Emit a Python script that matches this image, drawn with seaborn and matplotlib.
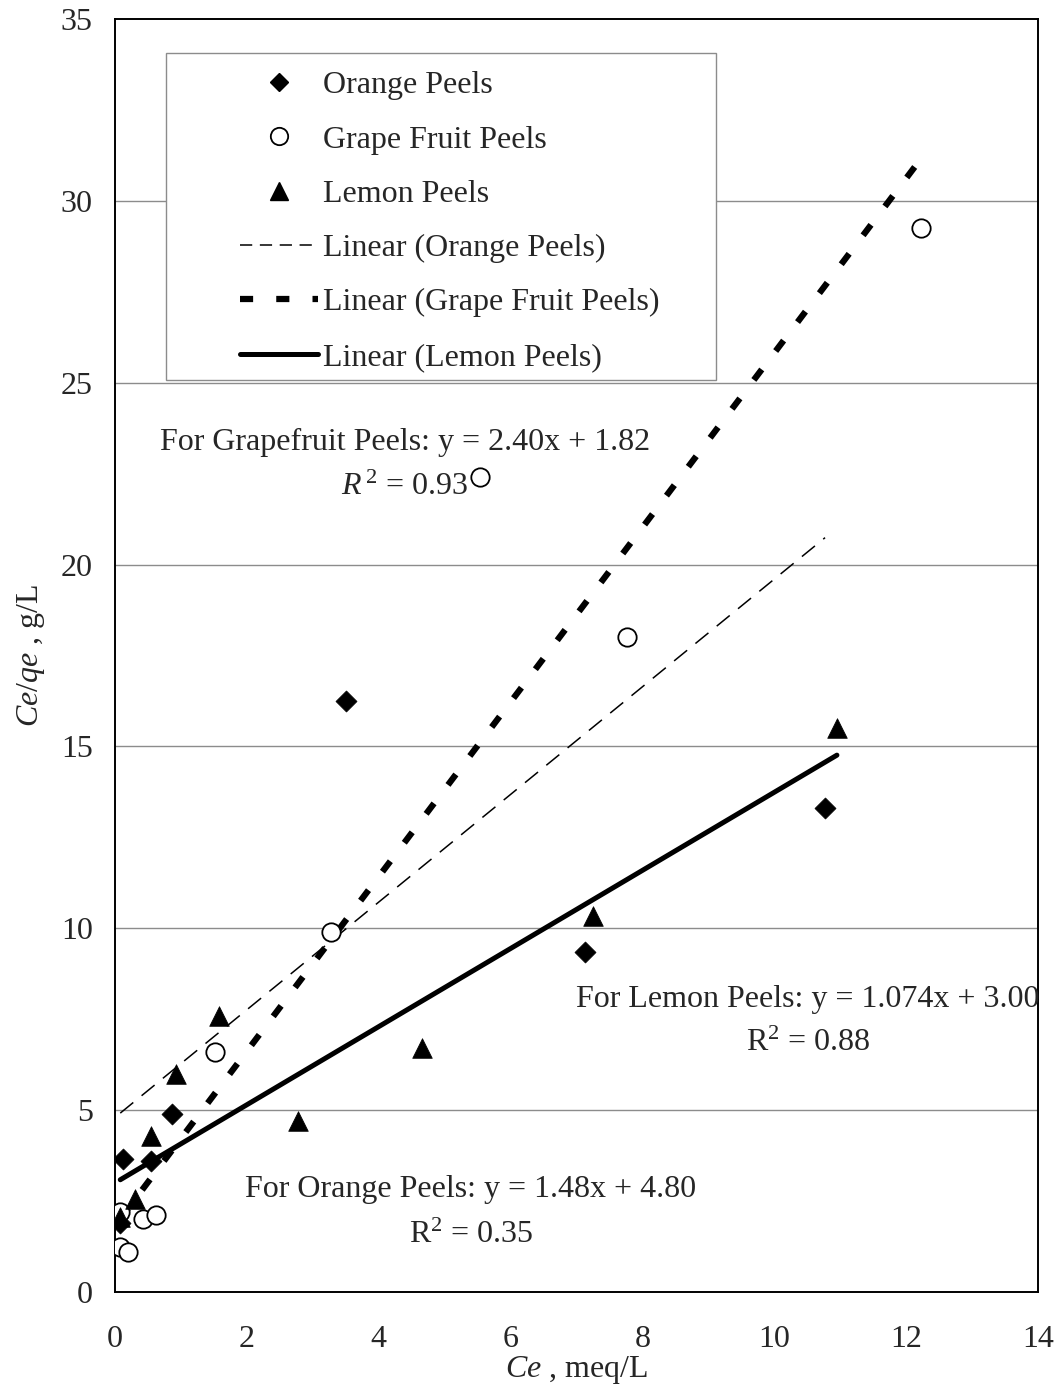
import numpy as np
import pandas as pd
import matplotlib
matplotlib.use("Agg")
import matplotlib.pyplot as plt
from matplotlib.lines import Line2D
from matplotlib.patches import Rectangle
import seaborn as sns

# ---------------- data ----------------
orange_x = [0.08, 0.12, 0.55, 0.87, 3.50, 7.13, 10.77]
orange_y = [1.90, 3.67, 3.60, 4.90, 16.25, 9.35, 13.30]

grape_x = [0.08, 0.08, 0.20, 0.42, 0.62, 1.52, 3.27, 5.53, 7.77, 12.23]
grape_y = [2.20, 1.25, 1.10, 2.00, 2.12, 6.60, 9.90, 22.40, 18.00, 29.25]

lemon_x = [0.08, 0.30, 0.55, 0.92, 1.57, 2.77, 4.65, 7.25, 10.95]
lemon_y = [2.05, 2.55, 4.30, 6.00, 7.60, 4.70, 6.70, 10.35, 15.50]

# fitted equations (slope, intercept) as printed on the chart
orange_fit = (1.48, 4.80)
grape_fit = (2.40, 1.82)
lemon_fit = (1.074, 3.00)

x_ticks = [0, 2, 4, 6, 8, 10, 12, 14]
y_ticks = [0, 5, 10, 15, 20, 25, 30, 35]

# ---------------- style ----------------
sns.set_theme(style="white")
plt.rcParams["font.family"] = ["Liberation Serif", "DejaVu Serif"]
plt.rcParams["mathtext.fontset"] = "custom"
plt.rcParams["mathtext.rm"] = "Liberation Serif"
plt.rcParams["mathtext.it"] = "Liberation Serif:italic"

FS = 23
fig = plt.figure(figsize=(10.63, 13.93), dpi=100)
ax = fig.add_axes([115 / 1063, 1 - 1292 / 1393, (1038 - 115) / 1063, (1292 - 19) / 1393])

ax.set_xlim(0, 14)
ax.set_ylim(0, 35)
ax.set_xticks(x_ticks)
ax.set_yticks(y_ticks)
ax.set_xticklabels([str(t) for t in x_ticks], fontsize=FS)
ax.set_yticklabels([str(t) for t in y_ticks], fontsize=FS)
ax.tick_params(axis="both", direction="out", length=6, width=1, color="black", pad=10)
ax.tick_params(axis="x", pad=18)

for g in y_ticks[1:-1]:
    ax.axhline(g, color="#8c8c8c", lw=1.0, zorder=0)

for sp in ax.spines.values():
    sp.set_color("black")
    sp.set_linewidth(1.4)

# fit lines
def fit_df(xs, fit):
    xx = np.array([min(xs), max(xs)])
    return pd.DataFrame({"x": xx, "y": fit[0] * xx + fit[1]})

d = fit_df(orange_x, orange_fit)
sns.lineplot(data=d, x="x", y="y", ax=ax, color="black", lw=1.1, zorder=2)
ax.lines[-1].set_dashes((11, 7))
d = fit_df(grape_x, grape_fit)
sns.lineplot(data=d, x="x", y="y", ax=ax, color="black", lw=4.5, zorder=2)
ax.lines[-1].set_dashes((2.1, 3.7))
ax.lines[-1].set_dash_capstyle("butt")
d = fit_df(lemon_x, lemon_fit)
sns.lineplot(data=d, x="x", y="y", ax=ax, color="black", lw=3.6, zorder=2)
ax.lines[-1].set_solid_capstyle("round")

# scatter points
sns.scatterplot(x=orange_x, y=orange_y, ax=ax, marker="D", s=115, color="black",
                edgecolor="black", linewidth=0.5, zorder=3)
sns.scatterplot(x=grape_x, y=grape_y, ax=ax, marker="o", s=175, facecolor="white",
                edgecolor="black", linewidth=1.3, zorder=3)
sns.scatterplot(x=lemon_x, y=lemon_y, ax=ax, marker="^", s=200, color="black",
                edgecolor="black", linewidth=0.5, zorder=3)

ax.set_xlabel(r"$\mathit{Ce}$ , meq/L", fontsize=FS, labelpad=0)
ax.set_ylabel(r"$\mathit{Ce/qe}$ , g/L", fontsize=FS, labelpad=10)

def pix(px, py):
    return ((px - 115) / 923, (1292 - py) / 1273)

# legend box
box = Rectangle(pix(166, 380), 550 / 923, 327 / 1273,
                transform=ax.transAxes, facecolor="white", edgecolor="#8c8c8c",
                lw=1.0, zorder=4)
ax.add_patch(box)

handles = [
    Line2D([], [], marker="D", color="black", ls="none", markersize=9.5),
    Line2D([], [], marker="o", markerfacecolor="white", markeredgecolor="black", ls="none", markersize=12.5, markeredgewidth=1.3),
    Line2D([], [], marker="^", color="black", ls="none", markersize=13.5),
    Line2D([], [], color="black", lw=1.1, dashes=(8, 5)),
    Line2D([], [], color="black", lw=4.5, dashes=(2.1, 3.7), dash_capstyle="butt"),
    Line2D([], [], color="black", lw=3.6),
]
labels = ["Orange Peels", "Grape Fruit Peels", "Lemon Peels",
          "Linear (Orange Peels)", "Linear (Grape Fruit Peels)", "Linear (Lemon Peels)"]
leg = ax.legend(handles, labels, loc="upper left",
                bbox_to_anchor=pix(240, 71),
                frameon=False, fontsize=FS, handlelength=2.45, handletextpad=0.15,
                labelspacing=0.78, borderpad=0, borderaxespad=0)
leg.set_zorder(5)

# annotations
ax.text(*pix(405, 442), "For Grapefruit Peels: y = 2.40x + 1.82", fontsize=FS,
        ha="center", va="center", transform=ax.transAxes, zorder=6)
ax.text(*pix(405, 487), r"$\mathit{R}^{\,2}$ = 0.93", fontsize=FS,
        ha="center", va="center", transform=ax.transAxes, zorder=6)
ax.text(*pix(808, 1000), "For Lemon Peels: y = 1.074x + 3.00", fontsize=FS,
        ha="center", va="center", transform=ax.transAxes, zorder=6)
ax.text(*pix(808, 1043), r"R$^2$ = 0.88", fontsize=FS,
        ha="center", va="center", transform=ax.transAxes, zorder=6)
ax.text(*pix(471, 1190), "For Orange Peels: y = 1.48x + 4.80", fontsize=FS,
        ha="center", va="center", transform=ax.transAxes, zorder=6)
ax.text(*pix(471, 1235), r"R$^2$ = 0.35", fontsize=FS,
        ha="center", va="center", transform=ax.transAxes, zorder=6)

fig.savefig("out.png", dpi=100, facecolor="white")
